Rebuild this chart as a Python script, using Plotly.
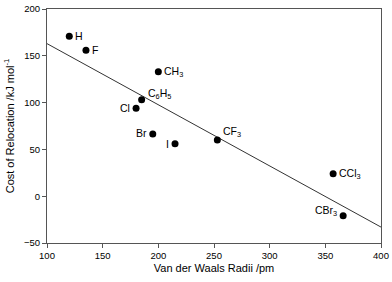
import plotly.graph_objects as go

radii = [120, 135, 200, 185, 180, 195, 215, 253, 357, 366]
cost = [171, 156, 133, 103, 94, 66.5, 56, 60, 24, -21]
labels = ["H", "F", "CH<sub>3</sub>", "C<sub>6</sub>H<sub>5</sub>", "Cl", "Br", "I",
          "CF<sub>3</sub>", "CCl<sub>3</sub>", "CBr<sub>3</sub>"]
label_side = ["r", "r", "r", "r", "l", "l", "l", "r", "r", "l"]
label_dy = [0, 0, 0, 6, 0, 1, 0, 8, 0, 5]

fit_x = [100, 400]
fit_y = [163, -33]

fig = go.Figure()
fig.add_trace(go.Scatter(x=fit_x, y=fit_y, mode="lines",
                         line=dict(color="#333333", width=1), showlegend=False))
fig.add_trace(go.Scatter(x=radii, y=cost, mode="markers",
                         marker=dict(color="black", size=7), showlegend=False))

for x, y, t, s, dy in zip(radii, cost, labels, label_side, label_dy):
    fig.add_annotation(x=x, y=y, text=t, showarrow=False,
                       xanchor="left" if s == "r" else "right",
                       xshift=4 if s == "r" else -4, yshift=dy,
                       font=dict(size=10.5, color="black"))

axis_common = dict(showline=True, linecolor="#555555", linewidth=1, mirror=True,
                   ticks="outside", ticklen=4, tickcolor="#555555", showgrid=False,
                   zeroline=False, tickfont=dict(size=9.5, color="black"), automargin=False)

fig.update_xaxes(range=[100, 400], dtick=50, **axis_common,
                 title=dict(text="Van der Waals Radii /pm", font=dict(size=11, color="black"), standoff=3))
fig.update_yaxes(range=[-50, 200], dtick=50, **axis_common,
                 title=dict(text="Cost of Relocation /kJ mol<sup>-1</sup>", font=dict(size=11, color="black"), standoff=7))

fig.update_layout(width=392, height=282, margin=dict(l=47, r=11, t=9, b=39),
                  plot_bgcolor="white", paper_bgcolor="white",
                  font=dict(family="Liberation Sans, Arial, sans-serif"))

fig.write_html("out.html", config={"displayModeBar": False},
               post_script="document.body.style.margin='0';")
